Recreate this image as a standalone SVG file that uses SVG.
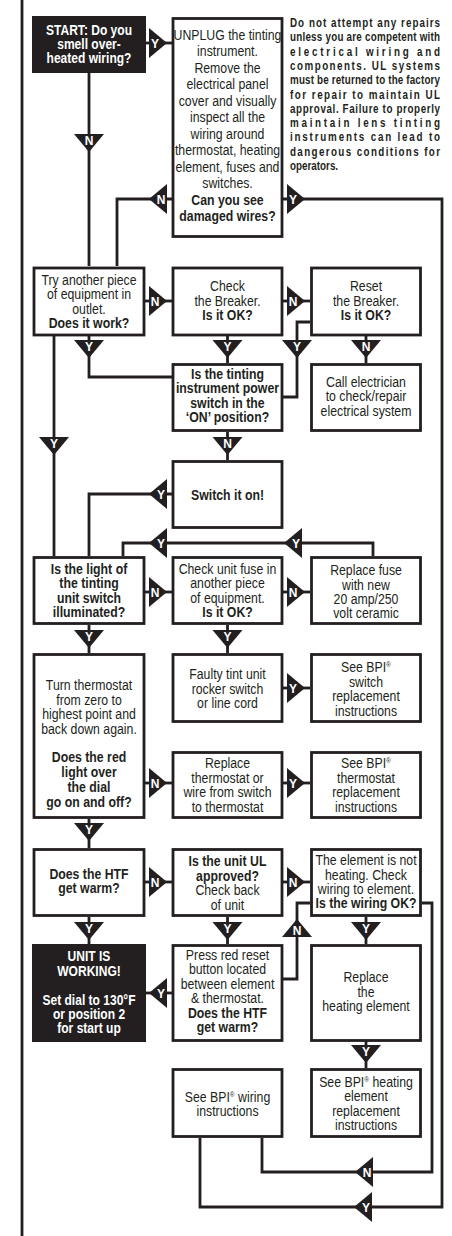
<svg xmlns="http://www.w3.org/2000/svg" xmlns:xlink="http://www.w3.org/1999/xlink" width="452" height="1236" viewBox="0 0 452 1236">
<style>
.box{fill:#fff;stroke:#231f20;stroke-width:2.8}
.dark{fill:#231f20}
.ln{fill:none;stroke:#231f20;stroke-width:2.8}
.tri{fill:#231f20}
.t{font-family:"Liberation Sans",Arial,sans-serif;font-size:15px;fill:#231f20;text-anchor:middle}
.b{font-weight:bold}
.s14{font-size:14px}
.w{fill:#fff}
.lb{font-family:"Liberation Sans",Arial,sans-serif;font-size:12px;font-weight:bold;fill:#fff;text-anchor:middle}
.warn{font-family:"Liberation Sans",Arial,sans-serif;font-size:12px;font-weight:bold;fill:#231f20}
</style>
<defs>
<polygon id="tr" points="0,-15 18,0 0,15"/>
</defs>
<rect width="452" height="1236" fill="#fff"/>

<g id="connectors">
<path class="ln" d="M22,0 V1236"/>
<path class="ln" d="M146,43 H172"/>
<path class="ln" d="M89,73 V266"/>
<path class="ln" d="M172,199 H117 V266"/>
<path class="ln" d="M283,199 H442 V1207 H200 V1138"/>
<path class="ln" d="M145,301 H172"/>
<path class="ln" d="M283,301 H310"/>
<path class="ln" d="M310,322 H297 V397 H283"/>
<path class="ln" d="M227.5,336 V363"/>
<path class="ln" d="M366,336 V363"/>
<path class="ln" d="M89,336 V377 H172"/>
<path class="ln" d="M54,336 V556"/>
<path class="ln" d="M227.5,432 V460"/>
<path class="ln" d="M172,494 H89 V556"/>
<path class="ln" d="M373,556 V543 H123 V556"/>
<path class="ln" d="M145,592 H172"/>
<path class="ln" d="M283,592 H310"/>
<path class="ln" d="M89,625 V653"/>
<path class="ln" d="M227.5,625 V653"/>
<path class="ln" d="M283,688 H310"/>
<path class="ln" d="M145,783 H172"/>
<path class="ln" d="M283,783 H310"/>
<path class="ln" d="M89,819 V848"/>
<path class="ln" d="M145,882 H172"/>
<path class="ln" d="M283,882 H310"/>
<path class="ln" d="M89,917 V944"/>
<path class="ln" d="M227.5,917 V944"/>
<path class="ln" d="M172,993 H146"/>
<path class="ln" d="M283,979 H297 V903 H310"/>
<path class="ln" d="M366,917 V944"/>
<path class="ln" d="M366,1041 V1068"/>
<path class="ln" d="M422,903 H432 V1172 H262 V1138"/>

<use xlink:href="#tr" class="tri" transform="translate(149,43)"/><text class="lb" x="155" y="47.5">Y</text>
<use xlink:href="#tr" class="tri" transform="translate(287,199)"/><text class="lb" x="293" y="203.5">Y</text>
<use xlink:href="#tr" class="tri" transform="translate(149,301)"/><text class="lb" x="155" y="305.5">N</text>
<use xlink:href="#tr" class="tri" transform="translate(287,301)"/><text class="lb" x="293" y="305.5">N</text>
<use xlink:href="#tr" class="tri" transform="translate(149,592)"/><text class="lb" x="155" y="596.5">N</text>
<use xlink:href="#tr" class="tri" transform="translate(287,592)"/><text class="lb" x="293" y="596.5">N</text>
<use xlink:href="#tr" class="tri" transform="translate(287,688)"/><text class="lb" x="293" y="692.5">Y</text>
<use xlink:href="#tr" class="tri" transform="translate(149,783)"/><text class="lb" x="155" y="787.5">N</text>
<use xlink:href="#tr" class="tri" transform="translate(287,783)"/><text class="lb" x="293" y="787.5">Y</text>
<use xlink:href="#tr" class="tri" transform="translate(149,882)"/><text class="lb" x="155" y="886.5">N</text>
<use xlink:href="#tr" class="tri" transform="translate(287,882)"/><text class="lb" x="293" y="886.5">N</text>

<use xlink:href="#tr" class="tri" transform="translate(167,199) rotate(180)"/><text class="lb" x="161" y="203.5">N</text>
<use xlink:href="#tr" class="tri" transform="translate(167,494) rotate(180)"/><text class="lb" x="161" y="498.5">Y</text>
<use xlink:href="#tr" class="tri" transform="translate(167,543) rotate(180)"/><text class="lb" x="161" y="547.5">Y</text>
<use xlink:href="#tr" class="tri" transform="translate(302,543) rotate(180)"/><text class="lb" x="296" y="547.5">Y</text>
<use xlink:href="#tr" class="tri" transform="translate(167,993) rotate(180)"/><text class="lb" x="161" y="997.5">Y</text>
<use xlink:href="#tr" class="tri" transform="translate(373,1172) rotate(180)"/><text class="lb" x="367" y="1176.5">N</text>
<use xlink:href="#tr" class="tri" transform="translate(372,1207) rotate(180)"/><text class="lb" x="366" y="1211.5">Y</text>

<use xlink:href="#tr" class="tri" transform="translate(89,134) rotate(90)"/><text class="lb" x="89" y="144.5">N</text>
<use xlink:href="#tr" class="tri" transform="translate(227.5,340) rotate(90)"/><text class="lb" x="227.5" y="350.5">Y</text>
<use xlink:href="#tr" class="tri" transform="translate(297,340) rotate(90)"/><text class="lb" x="297" y="350.5">Y</text>
<use xlink:href="#tr" class="tri" transform="translate(366,340) rotate(90)"/><text class="lb" x="366" y="350.5">N</text>
<use xlink:href="#tr" class="tri" transform="translate(89,340) rotate(90)"/><text class="lb" x="89" y="350.5">Y</text>
<use xlink:href="#tr" class="tri" transform="translate(54,437) rotate(90)"/><text class="lb" x="54" y="447.5">Y</text>
<use xlink:href="#tr" class="tri" transform="translate(227.5,437) rotate(90)"/><text class="lb" x="227.5" y="447.5">N</text>
<use xlink:href="#tr" class="tri" transform="translate(89,630) rotate(90)"/><text class="lb" x="89" y="640.5">Y</text>
<use xlink:href="#tr" class="tri" transform="translate(227.5,630) rotate(90)"/><text class="lb" x="227.5" y="640.5">Y</text>
<use xlink:href="#tr" class="tri" transform="translate(89,823) rotate(90)"/><text class="lb" x="89" y="833.5">Y</text>
<use xlink:href="#tr" class="tri" transform="translate(89,922) rotate(90)"/><text class="lb" x="89" y="932.5">Y</text>
<use xlink:href="#tr" class="tri" transform="translate(227.5,922) rotate(90)"/><text class="lb" x="227.5" y="932.5">Y</text>
<use xlink:href="#tr" class="tri" transform="translate(366,922) rotate(90)"/><text class="lb" x="366" y="932.5">Y</text>
<use xlink:href="#tr" class="tri" transform="translate(366,1045) rotate(90)"/><text class="lb" x="366" y="1055.5">Y</text>
<use xlink:href="#tr" class="tri" transform="translate(297,937) rotate(-90)"/><text class="lb" x="297" y="934.5">N</text>
</g>

<g id="warning">
<text class="warn" transform="translate(290,0) scale(0.82,1)">
<tspan x="0" y="27.3" textLength="183" lengthAdjust="spacing">Do not attempt any repairs</tspan>
<tspan x="0" y="41.5" textLength="183" lengthAdjust="spacing">unless you are competent with</tspan>
<tspan x="0" y="55.8" textLength="183" lengthAdjust="spacing">electrical wiring and</tspan>
<tspan x="0" y="70.1" textLength="183" lengthAdjust="spacing">components. UL systems</tspan>
<tspan x="0" y="84.4" textLength="183" lengthAdjust="spacing">must be returned to the factory</tspan>
<tspan x="0" y="98.6" textLength="183" lengthAdjust="spacing">for repair to maintain UL</tspan>
<tspan x="0" y="112.9" textLength="183" lengthAdjust="spacing">approval. Failure to properly</tspan>
<tspan x="0" y="127.2" textLength="183" lengthAdjust="spacing">maintain lens tinting</tspan>
<tspan x="0" y="141.5" textLength="183" lengthAdjust="spacing">instruments can lead to</tspan>
<tspan x="0" y="155.7" textLength="183" lengthAdjust="spacing">dangerous conditions for</tspan>
<tspan x="0" y="170">operators.</tspan>
</text>
</g>

<g id="n-start">
<rect class="dark" x="32" y="16" width="114" height="57"/>
<text class="t b w s14" transform="translate(89,0) scale(0.86,1)"><tspan x="0" y="35">START: Do you</tspan><tspan x="0" y="49">smell over-</tspan><tspan x="0" y="63">heated wiring?</tspan></text>
</g>

<g id="n-unplug">
<rect class="box" x="173" y="18.5" width="109" height="218"/>
<text class="t" transform="translate(227.5,0) scale(0.82,1)"><tspan x="0" y="40">UNPLUG the tinting</tspan><tspan x="0" y="56.5">instrument.</tspan><tspan x="0" y="73">Remove the</tspan><tspan x="0" y="89.5">electrical panel</tspan><tspan x="0" y="106">cover and visually</tspan><tspan x="0" y="122.5">inspect all the</tspan><tspan x="0" y="139">wiring around</tspan><tspan x="0" y="155.5">thermostat, heating</tspan><tspan x="0" y="172">element, fuses and</tspan><tspan x="0" y="188.5">switches.</tspan><tspan x="0" y="205" font-weight="bold">Can you see</tspan><tspan x="0" y="221.5" font-weight="bold">damaged wires?</tspan></text>
</g>

<g id="n-try">
<rect class="box" x="34" y="268" width="110" height="67"/>
<text class="t" transform="translate(89,0) scale(0.82,1)"><tspan x="0" y="285">Try another piece</tspan><tspan x="0" y="299.3">of equipment in</tspan><tspan x="0" y="313.6">outlet.</tspan><tspan x="0" y="328" font-weight="bold">Does it work?</tspan></text>
</g>

<g id="n-check-breaker">
<rect class="box" x="173" y="268" width="109" height="67"/>
<text class="t" transform="translate(227.5,0) scale(0.82,1)"><tspan x="0" y="291.5">Check</tspan><tspan x="0" y="306">the Breaker.</tspan><tspan x="0" y="320.5" font-weight="bold">Is it OK?</tspan></text>
</g>

<g id="n-reset-breaker">
<rect class="box" x="311.5" y="268" width="109" height="67"/>
<text class="t" transform="translate(366,0) scale(0.82,1)"><tspan x="0" y="291.5">Reset</tspan><tspan x="0" y="306">the Breaker.</tspan><tspan x="0" y="320.5" font-weight="bold">Is it OK?</tspan></text>
</g>

<g id="n-power-switch">
<rect class="box" x="173" y="364.5" width="109" height="66"/>
<text class="t b" transform="translate(227.5,0) scale(0.82,1)"><tspan x="0" y="379">Is the tinting</tspan><tspan x="0" y="393.5">instrument power</tspan><tspan x="0" y="408">switch in the</tspan><tspan x="0" y="422">‘ON’ position?</tspan></text>
</g>

<g id="n-electrician">
<rect class="box" x="311.5" y="364.5" width="109" height="66"/>
<text class="t" transform="translate(366,0) scale(0.82,1)"><tspan x="0" y="387">Call electrician</tspan><tspan x="0" y="401.5">to check/repair</tspan><tspan x="0" y="416">electrical system</tspan></text>
</g>

<g id="n-switch-on">
<rect class="box" x="173" y="461.5" width="109" height="66"/>
<text class="t b" transform="translate(227.5,0) scale(0.82,1)"><tspan x="0" y="500">Switch it on!</tspan></text>
</g>

<g id="n-light">
<rect class="box" x="34" y="557.5" width="110" height="66"/>
<text class="t b" transform="translate(89,0) scale(0.82,1)"><tspan x="0" y="574">Is the light of</tspan><tspan x="0" y="588.5">the tinting</tspan><tspan x="0" y="603">unit switch</tspan><tspan x="0" y="617.5">illuminated?</tspan></text>
</g>

<g id="n-check-fuse">
<rect class="box" x="173" y="557.5" width="109" height="66"/>
<text class="t" transform="translate(227.5,0) scale(0.82,1)"><tspan x="0" y="574">Check unit fuse in</tspan><tspan x="0" y="588.5">another piece</tspan><tspan x="0" y="603">of equipment.</tspan><tspan x="0" y="617.5" font-weight="bold">Is it OK?</tspan></text>
</g>

<g id="n-replace-fuse">
<rect class="box" x="311.5" y="557.5" width="109" height="66"/>
<text class="t" transform="translate(366,0) scale(0.82,1)"><tspan x="0" y="575.5">Replace fuse</tspan><tspan x="0" y="590">with new</tspan><tspan x="0" y="604">20 amp/250</tspan><tspan x="0" y="618">volt ceramic</tspan></text>
</g>

<g id="n-thermostat">
<rect class="box" x="34" y="654.5" width="110" height="163"/>
<text class="t" transform="translate(89,0) scale(0.82,1)"><tspan x="0" y="690">Turn thermostat</tspan><tspan x="0" y="705">from zero to</tspan><tspan x="0" y="719.5">highest point and</tspan><tspan x="0" y="734.5">back down again.</tspan><tspan x="0" y="762.5" font-weight="bold">Does the red</tspan><tspan x="0" y="777.3" font-weight="bold">light over</tspan><tspan x="0" y="792.3" font-weight="bold">the dial</tspan><tspan x="0" y="807.5" font-weight="bold">go on and off?</tspan></text>
</g>

<g id="n-faulty">
<rect class="box" x="173" y="654.5" width="109" height="67"/>
<text class="t" transform="translate(227.5,0) scale(0.82,1)"><tspan x="0" y="679">Faulty tint unit</tspan><tspan x="0" y="693.7">rocker switch</tspan><tspan x="0" y="708">or line cord</tspan></text>
</g>

<g id="n-bpi-switch">
<rect class="box" x="311.5" y="654.5" width="109" height="67"/>
<text class="t" transform="translate(366,0) scale(0.82,1)"><tspan x="0" y="672.5">See BPI<tspan font-size="8" dy="-5">®</tspan></tspan><tspan x="0" y="687">switch</tspan><tspan x="0" y="701.5">replacement</tspan><tspan x="0" y="716">instructions</tspan></text>
</g>

<g id="n-replace-thermostat">
<rect class="box" x="173" y="752.5" width="109" height="65"/>
<text class="t" transform="translate(227.5,0) scale(0.82,1)"><tspan x="0" y="768.3">Replace</tspan><tspan x="0" y="783">thermostat or</tspan><tspan x="0" y="797.5">wire from switch</tspan><tspan x="0" y="812">to thermostat</tspan></text>
</g>

<g id="n-bpi-thermostat">
<rect class="box" x="311.5" y="752.5" width="109" height="65"/>
<text class="t" transform="translate(366,0) scale(0.82,1)"><tspan x="0" y="768.3">See BPI<tspan font-size="8" dy="-5">®</tspan></tspan><tspan x="0" y="783">thermostat</tspan><tspan x="0" y="797.5">replacement</tspan><tspan x="0" y="812">instructions</tspan></text>
</g>

<g id="n-htf">
<rect class="box" x="34" y="849.5" width="110" height="66"/>
<text class="t b" transform="translate(89,0) scale(0.82,1)"><tspan x="0" y="879">Does the HTF</tspan><tspan x="0" y="893.3">get warm?</tspan></text>
</g>

<g id="n-ul">
<rect class="box" x="173" y="849.5" width="109" height="66"/>
<text class="t" transform="translate(227.5,0) scale(0.82,1)"><tspan x="0" y="866" font-weight="bold">Is the unit UL</tspan><tspan x="0" y="881" font-weight="bold">approved?</tspan><tspan x="0" y="895.5">Check back</tspan><tspan x="0" y="910">of unit</tspan></text>
</g>

<g id="n-element">
<rect class="box" x="311.5" y="849.5" width="109" height="66"/>
<text class="t" transform="translate(366,0) scale(0.82,1)"><tspan x="0" y="865">The element is not</tspan><tspan x="0" y="880">heating. Check</tspan><tspan x="0" y="894.5">wiring to element.</tspan><tspan x="0" y="908.5" font-weight="bold">Is the wiring OK?</tspan></text>
</g>

<g id="n-working">
<rect class="dark" x="32" y="944" width="114" height="98"/>
<text class="t b w s14" transform="translate(89,0) scale(0.86,1)"><tspan x="0" y="961.5">UNIT IS</tspan><tspan x="0" y="976">WORKING!</tspan><tspan x="0" y="1005.5">Set dial to 130°F</tspan><tspan x="0" y="1019.5">or position 2</tspan><tspan x="0" y="1033.5">for start up</tspan></text>
</g>

<g id="n-press-reset">
<rect class="box" x="173" y="945.5" width="109" height="95"/>
<text class="t" transform="translate(227.5,0) scale(0.82,1)"><tspan x="0" y="960">Press red reset</tspan><tspan x="0" y="974.5">button located</tspan><tspan x="0" y="989">between element</tspan><tspan x="0" y="1003.5">&amp; thermostat.</tspan><tspan x="0" y="1018" font-weight="bold">Does the HTF</tspan><tspan x="0" y="1032" font-weight="bold">get warm?</tspan></text>
</g>

<g id="n-replace-element">
<rect class="box" x="311.5" y="945.5" width="109" height="95"/>
<text class="t" transform="translate(366,0) scale(0.82,1)"><tspan x="0" y="982.5">Replace</tspan><tspan x="0" y="997">the</tspan><tspan x="0" y="1011.5">heating element</tspan></text>
</g>

<g id="n-bpi-wiring">
<rect class="box" x="173" y="1069.5" width="109" height="67"/>
<text class="t" transform="translate(227.5,0) scale(0.82,1)"><tspan x="0" y="1102">See BPI<tspan font-size="8" dy="-5">®</tspan><tspan dy="5"> wiring</tspan></tspan><tspan x="0" y="1116.5">instructions</tspan></text>
</g>

<g id="n-bpi-element">
<rect class="box" x="311.5" y="1069.5" width="109" height="67"/>
<text class="t" transform="translate(366,0) scale(0.82,1)"><tspan x="0" y="1087">See BPI<tspan font-size="8" dy="-5">®</tspan><tspan dy="5"> heating</tspan></tspan><tspan x="0" y="1101.5">element</tspan><tspan x="0" y="1116">replacement</tspan><tspan x="0" y="1130.5">instructions</tspan></text>
</g>
</svg>
